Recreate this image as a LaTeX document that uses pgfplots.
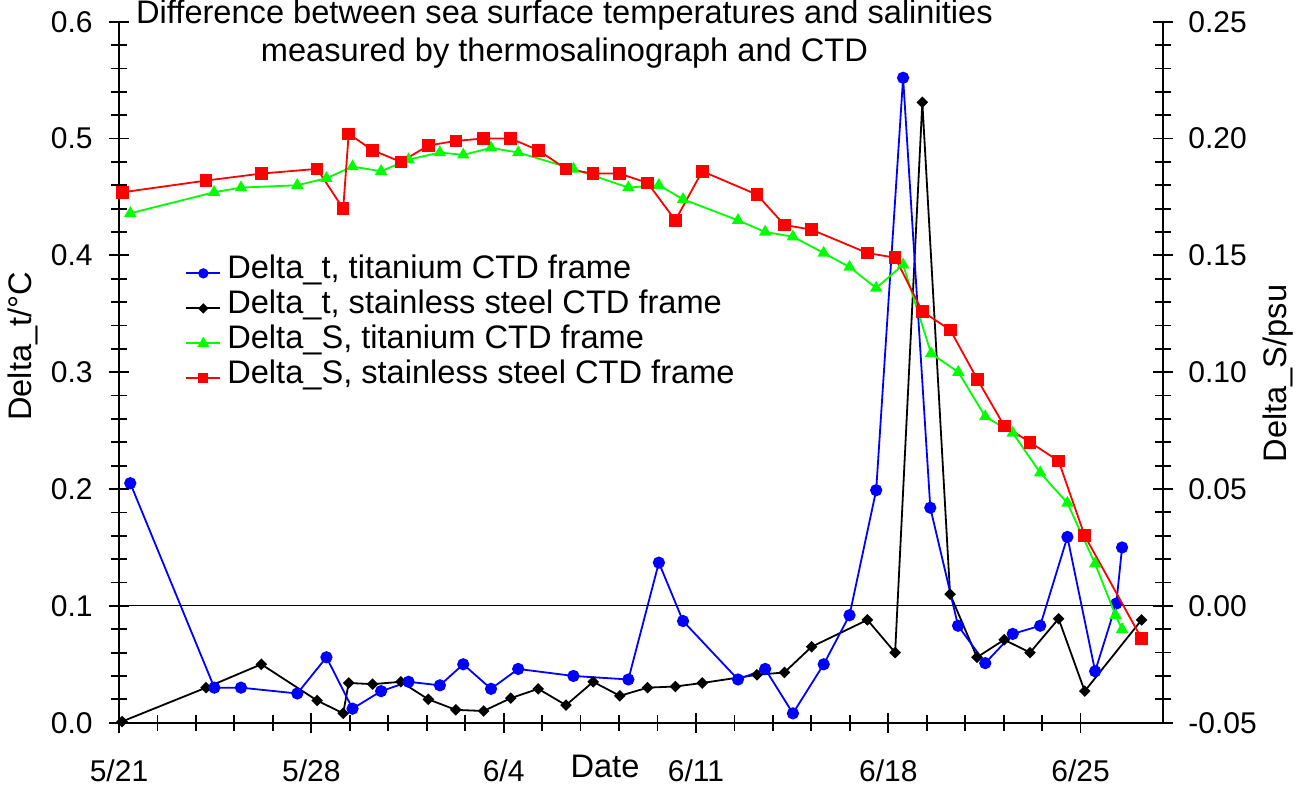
\documentclass[border=0pt]{standalone}
\usepackage{fontspec}
\setmainfont{Liberation Sans}
\usepackage{pgfplots}
\usepackage{pgfplotstable}
\pgfplotsset{compat=1.18}

% days counted from 5/21; temperature differences (degC)
\pgfplotstableread{
d v
0.41 0.205
3.47 0.030
4.44 0.030
6.49 0.025
7.55 0.056
8.50 0.012
9.54 0.027
10.54 0.035
11.68 0.032
12.53 0.050
13.54 0.029
14.53 0.046
16.54 0.040
18.54 0.037
19.65 0.137
20.53 0.087
22.53 0.037
23.52 0.046
24.53 0.008
25.65 0.050
26.59 0.092
27.56 0.199
28.54 0.552
29.53 0.184
30.54 0.083
31.53 0.051
32.53 0.076
33.53 0.083
34.52 0.159
35.53 0.044
36.30 0.102
36.51 0.150
}\dtTi

\pgfplotstableread{
d v
0.11 0.001
3.17 0.030
5.18 0.050
7.21 0.019
8.16 0.008
8.36 0.034
9.23 0.033
10.26 0.035
11.26 0.020
12.26 0.011
13.27 0.010
14.26 0.021
15.26 0.029
16.27 0.015
17.26 0.035
18.23 0.023
19.24 0.030
20.25 0.031
21.23 0.034
23.22 0.041
24.22 0.043
25.21 0.065
27.24 0.088
28.25 0.060
29.24 0.531
30.25 0.110
31.23 0.056
32.22 0.071
33.16 0.060
34.20 0.089
35.15 0.027
37.22 0.088
}\dtSS

% salinity differences (psu)
\pgfplotstableread{
d s
0.41 0.168
3.46 0.177
4.44 0.179
6.49 0.180
7.55 0.183
8.50 0.188
9.54 0.186
10.54 0.191
11.68 0.194
12.53 0.193
13.54 0.196
14.53 0.194
16.54 0.187
18.54 0.179
19.65 0.180
20.53 0.174
22.53 0.165
23.52 0.160
24.53 0.158
25.65 0.151
26.59 0.145
27.56 0.136
28.54 0.146
29.56 0.108
30.55 0.100
31.53 0.081
32.53 0.074
33.53 0.057
34.52 0.044
35.53 0.018
36.27 -0.004
36.51 -0.010
}\dsTi

\pgfplotstableread{
d s
0.13 0.177
3.17 0.182
5.18 0.185
7.21 0.187
8.16 0.170
8.36 0.202
9.23 0.195
10.26 0.190
11.26 0.197
12.26 0.199
13.27 0.200
14.26 0.200
15.26 0.195
16.27 0.187
17.25 0.185
18.22 0.185
19.24 0.181
20.25 0.165
21.23 0.186
23.22 0.176
24.22 0.163
25.21 0.161
27.24 0.151
28.25 0.149
29.24 0.126
30.26 0.118
31.24 0.097
32.22 0.077
33.16 0.070
34.20 0.062
35.15 0.030
37.22 -0.014
}\dsSS

\definecolor{cblue}{RGB}{0,0,255}
\definecolor{cgreen}{RGB}{0,255,0}
\definecolor{cred}{RGB}{255,0,0}

\newcommand{\lblfont}{\fontsize{16.3}{19.2}\selectfont}

\pgfplotsset{
  twin/.style={
    scale only axis, width=522pt, height=350.5pt,
    at={(59.5pt,34.65pt)}, anchor=south west,
    xmin=0, xmax=38, clip=false,
    tick align=center,
    major tick length=10pt, minor tick length=8pt,
    every tick/.style={black, line width=0.9pt},
    axis line style={line width=1pt},
    tick label style={font=\fontsize{15}{18}\selectfont},
    label style={font=\lblfont},
  },
  ser/.style={line width=0.9pt},
}

\begin{document}
\begin{tikzpicture}
\useasboundingbox (0,0) rectangle (657.5pt,396pt);

\begin{axis}[twin,
  axis x line*=bottom, axis y line*=left,
  ymin=0, ymax=0.6,
  xtick={0,7,14,21,28,35},
  xticklabels={5/21,5/28,6/4,6/11,6/18,6/25},
  minor x tick num=4,
  ytick={0,0.1,0.2,0.3,0.4,0.5,0.6},
  yticklabels={0.0,0.1,0.2,0.3,0.4,0.5,0.6},
  minor y tick num=4,
  xticklabel style={anchor=base, inner sep=0pt, yshift=-24.2pt},
  yticklabel style={anchor=east, inner sep=0pt, xshift=-8pt},
  xlabel={Date},
  xlabel style={at={(axis description cs:0.4655,-0.0775)}, anchor=base, inner sep=0pt},
  ylabel={Delta\_t/°C},
  ylabel style={at={(axis description cs:-0.092,0.537)}, anchor=center, rotate=0},
  title={Difference between sea surface temperatures and salinities\\measured by thermosalinograph and CTD},
  title style={at={(axis description cs:0.4267,1.0153)}, anchor=north, align=center, inner sep=0pt,
    font=\lblfont},
]
\addplot[black, line width=0.6pt, forget plot] coordinates {(0,0.1) (38,0.1)};
\addplot[ser, black, mark=square*, mark size=1.6pt, mark options={rotate=45}] table[x=d,y=v] {\dtSS};
\addplot[ser, cblue, mark=*, mark size=2.6pt] table[x=d,y=v] {\dtTi};
\end{axis}

\begin{axis}[twin,
  axis x line=none, axis y line*=right,
  ymin=-0.05, ymax=0.25,
  ytick={-0.05,0,0.05,0.1,0.15,0.2,0.25},
  yticklabels={-0.05,0.00,0.05,0.10,0.15,0.20,0.25},
  minor y tick num=4,
  yticklabel style={anchor=west, inner sep=0pt, xshift=7.5pt},
  ylabel={Delta\_S/psu},
  ylabel style={at={(axis description cs:1.110,0.498)}, anchor=center, rotate=0},
  legend cell align=left,
  legend style={at={(axis description cs:0.0632,0.6665)}, anchor=north west,
    draw=none, fill=none, inner sep=0pt, column sep=3pt,
    font=\lblfont,
    nodes={inner sep=0pt, text height=11.5pt, text depth=6pt}},
]
\addlegendimage{ser, cblue, mark=*, mark size=2.1pt}
\addlegendentry{Delta\_t, titanium CTD frame}
\addlegendimage{ser, black, mark=square*, mark size=1.4pt, mark options={rotate=45}}
\addlegendentry{Delta\_t, stainless steel CTD frame}
\addlegendimage{ser, cgreen, mark=triangle*, mark size=2.5pt}
\addlegendentry{Delta\_S, titanium CTD frame}
\addlegendimage{ser, cred, mark=square*, mark size=2pt}
\addlegendentry{Delta\_S, stainless steel CTD frame}
\addplot[ser, cgreen, mark=triangle*, mark size=2.7pt, forget plot] table[x=d,y=s] {\dsTi};
\addplot[ser, cred, mark=square*, mark size=2.7pt, forget plot] table[x=d,y=s] {\dsSS};
\end{axis}
\end{tikzpicture}
\end{document}
